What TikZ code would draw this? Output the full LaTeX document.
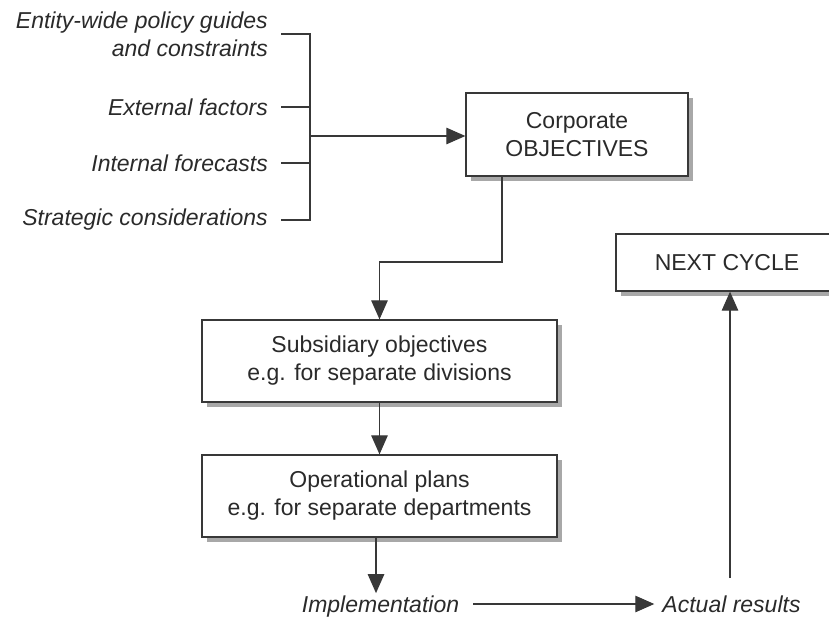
\documentclass[tikz,border=0pt]{standalone}
\usepackage{fontspec}
\setmainfont{Liberation Sans}
\usetikzlibrary{arrows.meta,shadows}
\definecolor{ink}{HTML}{2A2A2A}
\definecolor{rule}{HTML}{383838}
\definecolor{shade}{HTML}{A8A8A8}
\begin{document}
\begin{tikzpicture}[x=1pt,y=-1pt,
  every node/.style={text=ink, font=\fontsize{23}{28}\selectfont},
  box/.style={draw=rule, line width=1.3pt, fill=white, align=center, inner sep=0pt,
    drop shadow={shadow xshift=5pt, shadow yshift=-5pt, fill=shade, opacity=1}},
  lbl/.style={font=\fontsize{23}{28}\selectfont\itshape, inner sep=0pt},
  wire/.style={draw=rule, line width=1.2pt},
  arr/.style={wire, -{Triangle[length=19pt,width=16.5pt]}}]

\useasboundingbox (0,0) rectangle (829,618);

% boxes
\node[box, minimum width=222pt, minimum height=83pt] (corp) at (577,134.5) {Corporate\\OBJECTIVES};
\node[box, minimum width=355pt, minimum height=82pt] (sub) at (379.5,361) {Subsidiary objectives\\e.g. for separate divisions};
\node[box, minimum width=355pt, minimum height=82pt] (op) at (379.5,496) {Operational plans\\e.g. for separate departments};
\begin{scope}
  \clip (0,0) rectangle (829,618);
  \node[box, minimum width=222pt, minimum height=57pt] (next) at (727,262.5) {NEXT CYCLE};
\end{scope}

% inputs on the left
\node[lbl, anchor=east, align=right] (ent) at (268,34) {Entity-wide policy guides\\and constraints};
\node[lbl, anchor=east] (ext) at (268,107) {External factors};
\node[lbl, anchor=east] (int) at (268,163) {Internal forecasts};
\node[lbl, anchor=east] (str) at (268,220) {Strategic considerations};

% results at the bottom
\node[lbl, anchor=base] (impl) at (380.5,612) {Implementation};
\node[lbl, anchor=base] (act) at (731.5,612) {Actual results};

% bracket gathering the inputs
\coordinate (bx) at (310,136);
\draw[wire] ([xshift=13pt]ent.east) -- (ent.east -| bx) -- (str.east -| bx) -- ([xshift=13pt]str.east);
\draw[wire] ([xshift=13pt]ext.east) -- (ext.east -| bx);
\draw[wire] ([xshift=13pt]int.east) -- (int.east -| bx);
\draw[arr] (bx) -- (corp.west |- bx);

% flow downwards
\coordinate (bend) at (502,262);
\draw[arr] (corp.south -| bend) -- (bend) -| (sub.north);
\draw[arr] (sub.south) -- (op.north);
\coordinate (drop) at (376,0);
\draw[arr, shorten >=2pt] (op.south -| drop) -- (impl.north -| drop);
\draw[arr] ([xshift=14pt,yshift=8pt]impl.base east) -- ([xshift=-8pt,yshift=8pt]act.base west);
\coordinate (rise) at (730,0);
\draw[arr, shorten <=17pt] (act.north -| rise) -- (next.south -| rise);
\end{tikzpicture}
\end{document}
